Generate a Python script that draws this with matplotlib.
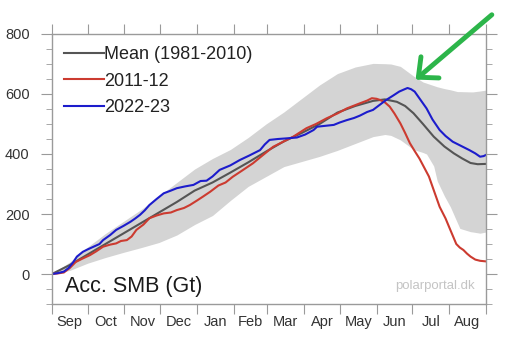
import numpy as np
import matplotlib
matplotlib.use("Agg")
from matplotlib import pyplot as plt

plt.rcParams['font.family'] = ['Liberation Sans', 'DejaVu Sans']

# days since 1 Sep, values in Gt
mean_days = [0, 15, 30, 45, 60, 75, 90, 105, 120, 135, 150, 165, 180, 195, 210,
             225, 240, 255, 270, 280, 290, 297, 304, 312, 321, 330, 338, 345, 352, 358, 365]
mean_vals = [0, 30, 65, 100, 135, 170, 205, 240, 278, 305, 338, 372, 408, 442, 470,
             500, 538, 560, 577, 582, 574, 560, 536, 500, 458, 425, 402, 385, 370, 366, 367]

band_days = [0, 15, 30, 45, 60, 75, 90, 105, 120, 135, 150, 165, 180, 195, 210, 225,
             240, 255, 270, 280, 285, 293, 304, 312, 315, 321, 324, 330, 335, 341, 343,
             352, 354, 360, 365]
band_hi = [0, 40, 90, 135, 175, 215, 260, 305, 350, 385, 415, 455, 500, 540, 585, 630,
           668, 690, 702, 701, 700, 692, 660, 640, 636, 628, 624, 618, 614, 608, 608,
           607, 607, 610, 613]
band_lo = [0, 12, 36, 55, 72, 88, 105, 130, 165, 195, 245, 292, 325, 358, 375, 392,
           412, 435, 458, 465, 462, 447, 415, 405, 400, 360, 310, 260, 224, 170, 152,
           141, 140, 136, 140]

red_days = [0, 5, 10, 15, 20, 26, 32, 37, 43, 49, 54, 58, 63, 67, 71, 77, 82, 88, 94,
            100, 105, 111, 116, 122, 127, 133, 140, 146, 152, 160, 169, 177, 186, 194,
            203, 214, 222, 231, 240, 248, 259, 265, 269, 273, 276, 280, 284, 288, 293,
            297, 301, 305, 309, 313, 317, 321, 326, 331, 335, 340, 343, 346, 349, 352,
            356, 360, 365]
red_vals = [0, 2, 5, 20, 40, 52, 63, 75, 91, 98, 102, 110, 113, 125, 147, 165, 186, 195,
            202, 205, 213, 220, 230, 245, 258, 274, 295, 305, 324, 345, 369, 395, 424,
            440, 458, 486, 500, 519, 535, 552, 569, 578, 586, 584, 580, 572, 558, 535,
            502, 470, 436, 410, 385, 355, 325, 280, 224, 185, 147, 100, 88, 80, 68, 58,
            48, 44, 42]

blue_days = [0, 5, 10, 14, 18, 21, 26, 30, 35, 40, 43, 49, 54, 60, 66, 70, 74, 78, 82,
             88, 94, 100, 105, 112, 119, 125, 130, 135, 141, 150, 158, 166, 175, 179,
             183, 190, 197, 206, 213, 220, 223, 230, 237, 242, 248, 254, 259, 265, 270,
             276, 281, 287, 292, 296, 299, 302, 305, 310, 315, 320, 326, 331, 337, 344,
             351, 356, 360, 363, 365]
blue_vals = [0, 3, 8, 20, 40, 58, 74, 82, 91, 100, 113, 130, 147, 160, 174, 185, 197,
             212, 230, 250, 269, 278, 286, 292, 297, 310, 311, 325, 347, 362, 380, 395,
             413, 432, 447, 450, 452, 455, 465, 480, 491, 494, 497, 505, 513, 520, 528,
             540, 547, 565, 580, 595, 608, 615, 620, 616, 608, 580, 552, 515, 480, 460,
             441, 427, 413, 402, 391, 393, 397]

month_starts = [0, 30, 61, 91, 122, 153, 181, 212, 242, 273, 303, 334, 365]
month_names = ['Sep', 'Oct', 'Nov', 'Dec', 'Jan', 'Feb', 'Mar', 'Apr', 'May',
               'Jun', 'Jul', 'Aug']

fig = plt.figure(figsize=(5.30, 3.41), dpi=100)
ax = fig.add_axes([0.098, 0.1085, 0.819, 0.7918])

ax.fill_between(band_days, band_lo, band_hi, color='#d4d4d4', lw=0)
ax.plot(mean_days, mean_vals, color='#555555', lw=1.5, label='Mean (1981-2010)')
ax.plot(red_days, red_vals, color='#cc3b30', lw=1.5, label='2011-12')
ax.plot(blue_days, blue_vals, color='#1c1ccc', lw=1.5, label='2022-23')

ax.set_xlim(0, 365)
ax.set_ylim(-100, 800)

edge = '#9a9a9a'
for s in ax.spines.values():
    s.set_color(edge)
    s.set_linewidth(1.0)

ax.set_xticks(month_starts)
ax.set_xticklabels([])
mids = [(a + b) / 2 for a, b in zip(month_starts[:-1], month_starts[1:])]
ax.set_xticks(mids, minor=True)
ax.set_xticklabels(month_names, minor=True)
ax.tick_params(axis='x', which='major', direction='out', length=7, color=edge,
               top=True, bottom=True)
ax.tick_params(axis='x', which='minor', length=0, pad=8, labelsize=10.5,
               labelcolor='#333333')

ax.set_yticks([0, 200, 400, 600, 800])
ax.set_yticks(np.arange(-100, 801, 50), minor=True)
ax.tick_params(axis='y', which='major', direction='out', length=8, color=edge,
               left=True, right=True, labelsize=10.5, labelcolor='#333333', pad=8)
ax.tick_params(axis='y', which='minor', direction='out', length=4, color=edge,
               left=True, right=True)

leg = ax.legend(loc='upper left', bbox_to_anchor=(0.028, 0.955), frameon=False,
                fontsize=13, handlelength=2.2, handletextpad=0.0, labelspacing=0.52,
                borderaxespad=0, borderpad=0)
for t in leg.get_texts():
    t.set_color('#222222')

ax.text(0.03, 0.065, 'Acc. SMB (Gt)', transform=ax.transAxes, fontsize=15.5,
        color='#1a1a1a', va='center', ha='left')
ax.text(0.975, 0.065, 'polarportal.dk', transform=ax.transAxes, fontsize=9.5,
        color='#c4c4c4', va='center', ha='right')

ax.annotate('', xy=(304, 642), xycoords='data',
            xytext=(0.932, 0.962), textcoords='figure fraction',
            arrowprops=dict(arrowstyle='->, head_length=1.1, head_width=1.0',
                            color='#2cb54a', lw=3.5),
            annotation_clip=False)

fig.savefig('out.png', dpi=100)
